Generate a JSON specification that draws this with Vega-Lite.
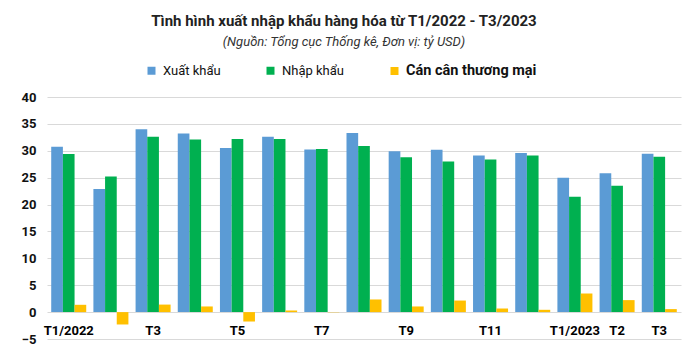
{
  "$schema": "https://vega.github.io/schema/vega-lite/v6.json",
  "width": 634,
  "height": 242,
  "autosize": {"type": "none"},
  "padding": {"left": 47, "top": 97, "right": 19, "bottom": 22},
  "background": "white",
  "title": {
    "text": "Tình hình xuất nhập khẩu hàng hóa từ T1/2022 - T3/2023",
    "subtitle": "(Nguồn: Tổng cục Thống kê, Đơn vị: tỷ USD)",
    "anchor": "middle",
    "frame": "group",
    "dx": -20,
    "offset": 15,
    "font": "Roboto",
    "fontSize": 15,
    "fontWeight": "bold",
    "color": "#222",
    "subtitleFont": "Roboto",
    "subtitleFontSize": 13,
    "subtitleFontStyle": "italic",
    "subtitleColor": "#333",
    "subtitlePadding": 7
  },
  "data": {
    "values": [
      {"m": "01", "label": "T1/2022", "s": "Xuất khẩu", "v": 30.75},
      {"m": "01", "label": "T1/2022", "s": "Nhập khẩu", "v": 29.4},
      {"m": "01", "label": "T1/2022", "s": "Cán cân thương mại", "v": 1.36},
      {"m": "02", "label": "", "s": "Xuất khẩu", "v": 22.9},
      {"m": "02", "label": "", "s": "Nhập khẩu", "v": 25.2},
      {"m": "02", "label": "", "s": "Cán cân thương mại", "v": -2.3},
      {"m": "03", "label": "T3", "s": "Xuất khẩu", "v": 34.0},
      {"m": "03", "label": "T3", "s": "Nhập khẩu", "v": 32.6},
      {"m": "03", "label": "T3", "s": "Cán cân thương mại", "v": 1.4},
      {"m": "04", "label": "", "s": "Xuất khẩu", "v": 33.2},
      {"m": "04", "label": "", "s": "Nhập khẩu", "v": 32.1},
      {"m": "04", "label": "", "s": "Cán cân thương mại", "v": 1.05},
      {"m": "05", "label": "T5", "s": "Xuất khẩu", "v": 30.5},
      {"m": "05", "label": "T5", "s": "Nhập khẩu", "v": 32.2},
      {"m": "05", "label": "T5", "s": "Cán cân thương mại", "v": -1.75},
      {"m": "06", "label": "", "s": "Xuất khẩu", "v": 32.6},
      {"m": "06", "label": "", "s": "Nhập khẩu", "v": 32.2},
      {"m": "06", "label": "", "s": "Cán cân thương mại", "v": 0.3},
      {"m": "07", "label": "T7", "s": "Xuất khẩu", "v": 30.25},
      {"m": "07", "label": "T7", "s": "Nhập khẩu", "v": 30.35},
      {"m": "07", "label": "T7", "s": "Cán cân thương mại", "v": -0.05},
      {"m": "08", "label": "", "s": "Xuất khẩu", "v": 33.3},
      {"m": "08", "label": "", "s": "Nhập khẩu", "v": 30.9},
      {"m": "08", "label": "", "s": "Cán cân thương mại", "v": 2.35},
      {"m": "09", "label": "T9", "s": "Xuất khẩu", "v": 29.9},
      {"m": "09", "label": "T9", "s": "Nhập khẩu", "v": 28.8},
      {"m": "09", "label": "T9", "s": "Cán cân thương mại", "v": 1.05},
      {"m": "10", "label": "", "s": "Xuất khẩu", "v": 30.2},
      {"m": "10", "label": "", "s": "Nhập khẩu", "v": 28.0},
      {"m": "10", "label": "", "s": "Cán cân thương mại", "v": 2.15},
      {"m": "11", "label": "T11", "s": "Xuất khẩu", "v": 29.1},
      {"m": "11", "label": "T11", "s": "Nhập khẩu", "v": 28.4},
      {"m": "11", "label": "T11", "s": "Cán cân thương mại", "v": 0.67},
      {"m": "12", "label": "", "s": "Xuất khẩu", "v": 29.6},
      {"m": "12", "label": "", "s": "Nhập khẩu", "v": 29.1},
      {"m": "12", "label": "", "s": "Cán cân thương mại", "v": 0.43},
      {"m": "13", "label": "T1/2023", "s": "Xuất khẩu", "v": 25.0},
      {"m": "13", "label": "T1/2023", "s": "Nhập khẩu", "v": 21.45},
      {"m": "13", "label": "T1/2023", "s": "Cán cân thương mại", "v": 3.46},
      {"m": "14", "label": "T2", "s": "Xuất khẩu", "v": 25.8},
      {"m": "14", "label": "T2", "s": "Nhập khẩu", "v": 23.5},
      {"m": "14", "label": "T2", "s": "Cán cân thương mại", "v": 2.23},
      {"m": "15", "label": "T3", "s": "Xuất khẩu", "v": 29.45},
      {"m": "15", "label": "T3", "s": "Nhập khẩu", "v": 28.9},
      {"m": "15", "label": "T3", "s": "Cán cân thương mại", "v": 0.56}
    ]
  },
  "mark": {"type": "bar"},
  "encoding": {
    "x": {
      "field": "m",
      "type": "nominal",
      "sort": null,
      "title": null,
      "scale": {"paddingInner": 0.17, "paddingOuter": 0.1},
      "axis": {
        "orient": "bottom",
        "offset": -27,
        "domain": false,
        "ticks": false,
        "grid": false,
        "labelAngle": 0,
        "labelPadding": 12,
        "labelFont": "Roboto",
        "labelFontSize": 13,
        "labelFontWeight": "bold",
        "labelColor": "#000",
        "labelExpr": "({'01':'T1/2022','03':'T3','05':'T5','07':'T7','09':'T9','11':'T11','13':'T1/2023','14':'T2','15':'T3'})[datum.value] || ''"
      }
    },
    "xOffset": {
      "field": "s",
      "type": "nominal",
      "sort": ["Xuất khẩu", "Nhập khẩu", "Cán cân thương mại"],
      "scale": {"paddingInner": 0, "paddingOuter": 0}
    },
    "y": {
      "field": "v",
      "type": "quantitative",
      "title": null,
      "scale": {"domain": [-5, 40], "nice": false, "zero": false},
      "axis": {
        "values": [-5, 0, 5, 10, 15, 20, 25, 30, 35, 40],
        "domain": false,
        "ticks": false,
        "grid": true,
        "gridColor": "#D9D9D9",
        "gridWidth": 1,
        "labelPadding": 11,
        "labelFont": "Roboto",
        "labelFontSize": 13,
        "labelFontWeight": "bold",
        "labelColor": "#111"
      }
    },
    "color": {
      "field": "s",
      "type": "nominal",
      "sort": ["Xuất khẩu", "Nhập khẩu", "Cán cân thương mại"],
      "scale": {
        "domain": ["Xuất khẩu", "Nhập khẩu", "Cán cân thương mại"],
        "range": ["#5B9BD5", "#00B050", "#FFC000"]
      },
      "legend": {
        "title": null,
        "orient": "none",
        "direction": "horizontal",
        "legendX": 98,
        "legendY": -33,
        "symbolType": "square",
        "symbolSize": 64,
        "symbolStrokeWidth": 0,
        "labelOffset": 5,
        "columnPadding": 43,
        "labelFont": "Roboto",
        "labelFontSize": 13,
        "labelColor": "#111",
        "encode": {
          "labels": {
            "update": {
              "fontSize": {"signal": "datum.label === 'Cán cân thương mại' ? 14.5 : 13"},
              "fontWeight": {"signal": "datum.label === 'Cán cân thương mại' ? 'bold' : 'normal'"}
            }
          }
        }
      }
    }
  },
  "config": {"view": {"stroke": null}}
}
